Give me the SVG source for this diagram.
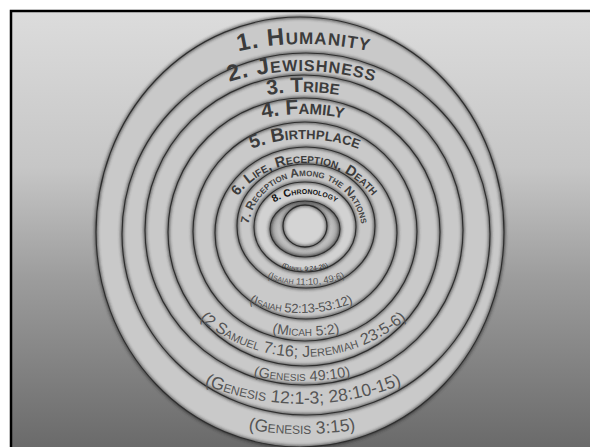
<svg xmlns="http://www.w3.org/2000/svg" xmlns:xlink="http://www.w3.org/1999/xlink" width="590" height="447" viewBox="0 0 590 447">
<defs>
<linearGradient id="bg" x1="0" y1="0" x2="0" y2="1">
<stop offset="0" stop-color="#dcdcdc"/>
<stop offset="0.35" stop-color="#c6c6c6"/>
<stop offset="0.6" stop-color="#9c9c9c"/>
<stop offset="1" stop-color="#676767"/>
</linearGradient>
<radialGradient id="lens" cx="0.5" cy="0.5" r="0.5">
<stop offset="0" stop-color="#d8d8d8"/>
<stop offset="0.7" stop-color="#c8c8c8"/>
<stop offset="1" stop-color="#9a9a9a"/>
</radialGradient>
<filter id="blur" x="-10%" y="-10%" width="120%" height="120%">
<feGaussianBlur stdDeviation="1.8"/>
</filter>
<path id="t1" d="M4,344 A300,300 0 0 1 604,344"/>
<path id="t2" d="M52,321 A250,250 0 0 1 552,321"/>
<path id="t3" d="M83,312 A220,220 0 0 1 523,312"/>
<path id="t4" d="M113,304 A190,190 0 0 1 493,304"/>
<path id="t5" d="M155,289 A150,150 0 0 1 455,289"/>
<path id="t6" d="M220,248 A85,85 0 0 1 390,248"/>
<path id="t7" d="M248,233 A57,57 0 0 1 362,233"/>
<path id="t8" d="M245,254 A60,60 0 0 1 365,254"/>
<path id="b1" d="M-48,84 A350,350 0 0 0 652,84"/>
<path id="b2" d="M43,144 A260,260 0 0 0 563,144"/>
<path id="b3" d="M62,141 A240,240 0 0 0 542,141"/>
<path id="b4" d="M143,197 A160,160 0 0 0 463,197"/>
<path id="b5" d="M126,156 A180,180 0 0 0 486,156"/>
<path id="b6" d="M161,173 A140,140 0 0 0 441,173"/>
<path id="b7" d="M196,175 A110,110 0 0 0 416,175"/>
<path id="b8" d="M235,201 A70,70 0 0 0 375,201"/>
</defs>
<style>
.disc{fill:#c9c9c9;stroke:#3a3a3a;stroke-width:1.2}
.edge{fill:none;stroke:#222;stroke-width:3.5;opacity:.6;filter:url(#blur)}
.top{font-family:"Liberation Sans",Arial,sans-serif;font-weight:bold;font-variant:small-caps;fill:#3c3c3c;text-anchor:middle}
.ref{font-family:"Liberation Sans",Arial,sans-serif;font-variant:small-caps;fill:#555;text-anchor:middle}
</style>
<rect x="0" y="0" width="590" height="447" fill="#ffffff"/>
<rect x="11" y="11" width="590" height="447" fill="url(#bg)"/>
<path d="M11,447 V11 H590" fill="none" stroke="#000" stroke-width="2.5"/>

<g id="ring1">
<ellipse class="disc" cx="300" cy="232" rx="204" ry="215"/>
<ellipse class="edge" cx="300" cy="232" rx="204" ry="215"/>
<text class="top" font-size="24" letter-spacing="1"><textPath href="#t1" startOffset="50%">1. Humanity</textPath></text>
<text class="ref" font-size="17.5"><textPath href="#b1" startOffset="50%">(Genesis 3:15)</textPath></text>
</g>
<g id="ring2">
<ellipse class="disc" cx="306" cy="234" rx="184" ry="181"/>
<ellipse class="edge" cx="306" cy="234" rx="184" ry="181"/>
<text class="top" font-size="23" letter-spacing="1"><textPath href="#t2" startOffset="50%">2. Jewishness</textPath></text>
<text class="ref" font-size="17.5"><textPath href="#b2" startOffset="50%">(Genesis 12:1-3; 28:10-15)</textPath></text>
</g>
<g id="ring3">
<ellipse class="disc" cx="304" cy="230" rx="159" ry="155"/>
<ellipse class="edge" cx="304" cy="230" rx="159" ry="155"/>
<text class="top" font-size="21"><textPath href="#t3" startOffset="50%">3. Tribe</textPath></text>
<text class="ref" font-size="14.5"><textPath href="#b3" startOffset="50%">(Genesis 49:10)</textPath></text>
</g>
<g id="ring4">
<ellipse class="disc" cx="304" cy="232" rx="136" ry="134"/>
<ellipse class="edge" cx="304" cy="232" rx="136" ry="134"/>
<text class="top" font-size="21"><textPath href="#t4" startOffset="50%">4. Family</textPath></text>
<text class="ref" font-size="16"><textPath href="#b4" startOffset="50%">(2 Samuel 7:16; Jeremiah 23:5-6)</textPath></text>
</g>
<g id="ring5">
<ellipse class="disc" cx="305" cy="231.5" rx="112" ry="109.5"/>
<ellipse class="edge" cx="305" cy="231.5" rx="112" ry="109.5"/>
<text class="top" font-size="19"><textPath href="#t5" startOffset="50%">5. Birthplace</textPath></text>
<text class="ref" font-size="14"><textPath href="#b5" startOffset="50%">(Micah 5:2)</textPath></text>
</g>
<g id="ring6">
<ellipse class="disc" cx="306" cy="233" rx="91" ry="86"/>
<ellipse class="edge" cx="306" cy="233" rx="91" ry="86"/>
<text class="top" font-size="14.5"><textPath href="#t6" startOffset="50%">6. Life, Reception, Death</textPath></text>
<text class="ref" font-size="13" letter-spacing="-0.3"><textPath href="#b6" startOffset="50%">(Isaiah 52:13-53:12)</textPath></text>
</g>
<g id="ring7">
<ellipse class="disc" cx="306" cy="226" rx="69" ry="62"/>
<ellipse class="edge" cx="306" cy="226" rx="69" ry="62"/>
<text class="top" font-size="12" style="fill:#444"><textPath href="#t7" startOffset="50%">7. Reception Among the Nations</textPath></text>
<text class="ref" font-size="9.5"><textPath href="#b7" startOffset="50%">(Isaiah 11:10, 49:6)</textPath></text>
</g>
<g id="ring8">
<ellipse class="disc" cx="305" cy="227" rx="51" ry="45" style="fill:#d2d2d2"/>
<ellipse class="edge" cx="305" cy="227" rx="51" ry="45"/>
<text class="top" font-size="10.5" style="fill:#111"><textPath href="#t8" startOffset="50%">8. Chronology</textPath></text>
<text class="ref" font-size="6.5" style="fill:#222"><textPath href="#b8" startOffset="50%">(Daniel 9:24-26)</textPath></text>
</g>
<g id="ring9">
<ellipse cx="305" cy="229" rx="35" ry="28" fill="url(#lens)" stroke="#3a3a3a" stroke-width="1.2"/>
<ellipse class="edge" cx="305" cy="229" rx="35" ry="28"/>
</g>
<g id="ring10">
<ellipse cx="305" cy="226" rx="22" ry="21" fill="#d4d4d4" stroke="#333" stroke-width="1.3"/>
<ellipse class="edge" cx="305" cy="226" rx="22" ry="21"/>
</g>
</svg>
